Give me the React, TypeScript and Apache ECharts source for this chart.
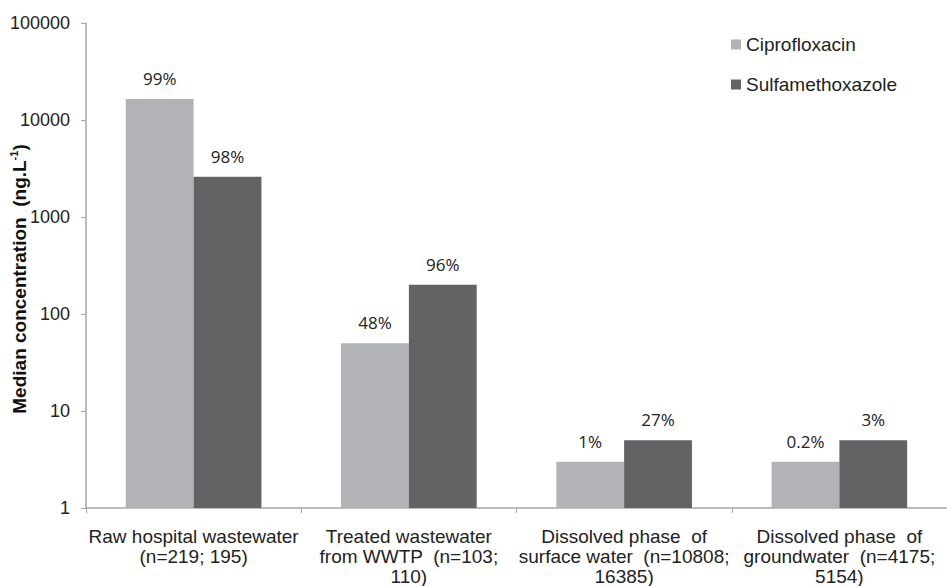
import React, { useEffect, useRef } from "react";
import * as echarts from "echarts";

const categories = [
  "Raw hospital wastewater\n(n=219; 195)",
  "Treated wastewater\nfrom WWTP  (n=103;\n110)",
  "Dissolved phase  of\nsurface water  (n=10808;\n16385)",
  "Dissolved phase  of\ngroundwater  (n=4175;\n5154)",
];
const seriesNames = ["Ciprofloxacin", "Sulfamethoxazole"];
const ciprofloxacin = [16500, 50, 3, 3];
const sulfamethoxazole = [2600, 200, 5, 5];
const ciproLabels = ["99%", "48%", "1%", "0.2%"];
const sulfaLabels = ["98%", "96%", "27%", "3%"];

const AXIS_FONT = "'Liberation Sans', Arial, sans-serif";
const LABEL_FONT = "'Open Sans', sans-serif";

export default function App() {
  const ref = useRef<HTMLDivElement>(null);
  useEffect(() => {
    if (!ref.current) return;
    const chart = echarts.init(ref.current, undefined, { renderer: "svg" });
    const mkLabel = (labels: string[]) => ({
      show: true,
      position: "top",
      distance: 12,
      fontFamily: LABEL_FONT,
      fontSize: 17,
      color: "#222",
      formatter: (p: any) => labels[p.dataIndex],
    });
    chart.setOption({
      animation: false,
      backgroundColor: "#fff",
      grid: { left: 86, top: 23, bottom: 77, width: 873, containLabel: false },
      legend: {
        orient: "vertical",
        left: 731,
        top: 35,
        padding: 0,
        itemWidth: 10,
        itemHeight: 10,
        itemGap: 21,
        icon: "rect",
        textStyle: { fontFamily: AXIS_FONT, fontSize: 19, color: "#222" },
        data: seriesNames,
      },
      xAxis: {
        type: "category",
        data: categories,
        axisLine: { lineStyle: { color: "#a6a6a6", width: 1.5 } },
        axisTick: { show: true, length: 5, lineStyle: { color: "#a6a6a6" } },
        axisLabel: {
          interval: 0,
          margin: 18,
          fontFamily: AXIS_FONT,
          fontSize: 19,
          lineHeight: 20,
          color: "#222",
        },
      },
      yAxis: {
        type: "log",
        logBase: 10,
        min: 1,
        max: 100000,
        axisLine: { show: true, lineStyle: { color: "#a6a6a6", width: 1.5 } },
        axisTick: { show: true, length: 5, lineStyle: { color: "#a6a6a6" } },
        splitLine: { show: false },
        axisLabel: {
          margin: 16,
          fontFamily: AXIS_FONT,
          fontSize: 18,
          color: "#222",
          formatter: (v: number) => String(Math.round(v)),
        },
      },
      graphic: [
        {
          type: "text",
          x: 19,
          y: 279,
          rotation: Math.PI / 2,
          style: {
            text: "{a|Median concentration  (ng.L}{s|-1}{a|)}",
            align: "center",
            verticalAlign: "middle",
            fill: "#111",
            rich: {
              a: { fontFamily: AXIS_FONT, fontSize: 19, fontWeight: "bold", fill: "#111" },
              s: {
                fontFamily: AXIS_FONT,
                fontSize: 11,
                fontWeight: "bold",
                fill: "#111",
                padding: [0, 0, 10, 0],
              },
            },
          },
        },
      ],
      series: [
        {
          name: seriesNames[0],
          type: "bar",
          data: ciprofloxacin,
          barGap: "0%",
          barCategoryGap: "37%",
          itemStyle: { color: "#b2b3b6" },
          label: mkLabel(ciproLabels),
        },
        {
          name: seriesNames[1],
          type: "bar",
          data: sulfamethoxazole,
          barGap: "0%",
          barCategoryGap: "37%",
          itemStyle: { color: "#636365" },
          label: mkLabel(sulfaLabels),
        },
      ],
    });
    return () => chart.dispose();
  }, []);
  return (
    <div
      style={{
        position: "fixed",
        left: 0,
        top: 0,
        width: 947,
        height: 586,
        overflow: "hidden",
        background: "#fff",
      }}
    >
      <div ref={ref} style={{ width: 947, height: 586 }} />
    </div>
  );
}
